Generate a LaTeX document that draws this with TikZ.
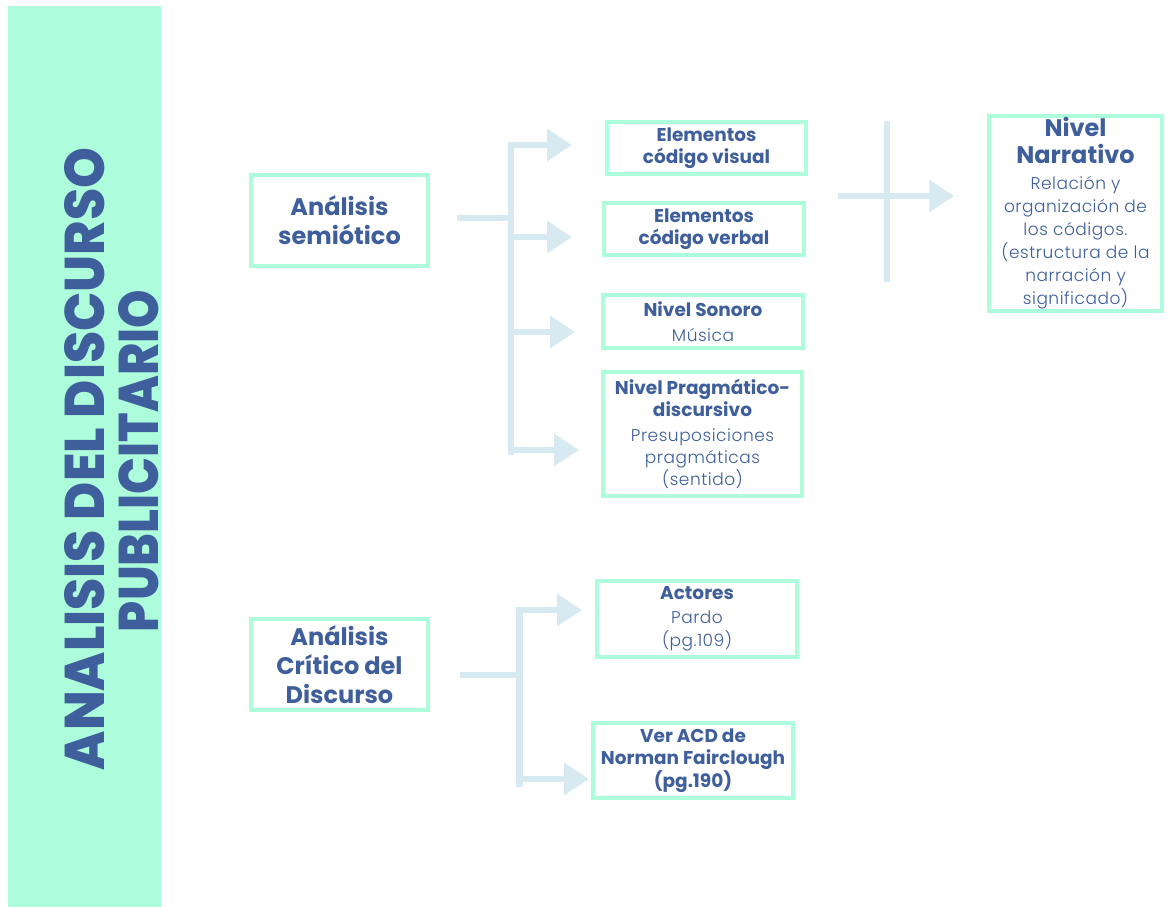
\documentclass[tikz,border=0pt]{standalone}
\usepackage{graphicx}
\usepackage{fontspec}
\setmainfont{Poppins}
\newfontfamily\lfam{Poppins Light}[LetterSpace=3]
\newfontfamily\tfam{Poppins ExtraBold}
\usetikzlibrary{arrows.meta,calc}
\definecolor{mint}{HTML}{ADFCDB}
\definecolor{tblue}{HTML}{3E5F9B}
\definecolor{arcol}{HTML}{D7E9F1}
\newcommand{\bodytxt}[1]{{\mdseries\lfam\fontsize{17}{22}\selectfont #1}}
\tikzset{
  box/.style={draw=mint, line width=3.5pt, inner sep=0pt, align=center, text=tblue},
  bsmall/.style={font=\fontsize{18.5}{22}\selectfont\bfseries},
  bbig/.style={font=\fontsize{24}{29}\selectfont\bfseries},
  conn/.style={draw=arcol, line width=6.5pt, line cap=butt},
  arr/.style={conn, -{Triangle[length=25pt,width=31pt]}},
  ttl/.style={text=tblue, inner sep=0pt, rotate=90, font=\tfam}
}
\begin{document}
\begin{tikzpicture}[x=1pt,y=-1pt]
\useasboundingbox[fill=white] (0,0) rectangle (1167,907);
% left bar
\fill[mint] (8,6) rectangle (161,907);
\node[ttl] (t1) at (85,459) {\resizebox{622pt}{40pt}{ANALISIS DEL DISCURSO}};
\node[ttl] (t2) at (139,461) {\resizebox{342pt}{40pt}{PUBLICITARIO}};
% boxes
\node[box,bbig,minimum width=177pt,minimum height=91pt] (sem) at (339.5,220.5) {Análisis\\semiótico};
\node[box,bsmall,minimum width=199pt,minimum height=52pt] (vis) at (706.5,148) {Elementos\\código visual};
\node[box,bsmall,minimum width=200pt,minimum height=52pt] (verb) at (704,229) {Elementos\\código verbal};
\node[box,bsmall,minimum width=200pt,minimum height=53pt] (son) at (703,321.5) {Nivel Sonoro\\[3pt]\bodytxt{Música}};
\node[box,bsmall,minimum width=199pt,minimum height=124pt] (prag) at (702.5,434) {Nivel Pragmático-\\discursivo\\[3pt]\bodytxt{Presuposiciones}\\\bodytxt{pragmáticas}\\\bodytxt{(sentido)}};
\node[box,minimum width=173pt,minimum height=195pt,font=\fontsize{17}{23}\selectfont] (narr) at (1075.5,213.5) {{\fontsize{24}{23}\selectfont\bfseries Nivel}\\[4pt]{\fontsize{24}{23}\selectfont\bfseries Narrativo}\\[3pt]\bodytxt{Relación y}\\\bodytxt{organización de}\\\bodytxt{los códigos.}\\\bodytxt{(estructura de la}\\\bodytxt{narración y}\\\bodytxt{significado)}};
\node[box,bbig,minimum width=177pt,minimum height=91pt] (acd) at (339.5,664.5) {Análisis\\Crítico del\\Discurso};
\node[box,minimum width=200pt,minimum height=76pt,font=\fontsize{18.5}{23.5}\selectfont] (act) at (697,619) {{\bfseries Actores}\\\bodytxt{Pardo}\\\bodytxt{(pg.109)}};
\node[box,minimum width=200pt,minimum height=75pt,font=\fontsize{18.5}{22.5}\selectfont\bfseries] (fair) at (693,760.5) {Ver ACD de\\Norman Fairclough\\(pg.190)};
% connectors: semiotic group
\coordinate (s0) at ($(sem.east)+(27,-2.5)$);
\coordinate (s1) at (511,218);
\coordinate (sp1) at (511,141.75);
\coordinate (sp2) at (511,455);
\coordinate (b1) at (507.75,145);
\coordinate (h1) at (572,145);
\coordinate (b2) at (511,237);
\coordinate (h2) at (572,237);
\coordinate (b3) at (511,332);
\coordinate (h3) at (575,332);
\coordinate (b4) at (511,450);
\coordinate (h4) at (579,450);
\draw[conn] (s0) -- (s1);
\draw[conn] (sp1) -- (sp2);
\draw[arr] (b1) -- (h1);
\draw[arr] (b2) -- (h2);
\draw[arr] (b3) -- (h3);
\draw[arr] (b4) -- (h4);
% right group
\coordinate (r0) at (838,196);
\coordinate (r1) at ($(narr.west)+(-33,-17.5)$);
\coordinate (rv1) at (887,121);
\coordinate (rv2) at (887,282);
\draw[arr] (r0) -- (r1);
\draw[conn] (rv1) -- (rv2);
% ACD group
\coordinate (c0) at ($(acd.east)+(30,10.5)$);
\coordinate (c1) at (519.5,675);
\coordinate (cp1) at (519.5,606.75);
\coordinate (cp2) at (519.5,787);
\coordinate (d1) at (516.25,610);
\coordinate (e1) at (582,610);
\coordinate (d2) at (519.5,779);
\coordinate (e2) at (589,779);
\draw[conn] (c0) -- (c1);
\draw[conn] (cp1) -- (cp2);
\draw[arr] (d1) -- (e1);
\draw[arr] (d2) -- (e2);
\end{tikzpicture}
\end{document}
